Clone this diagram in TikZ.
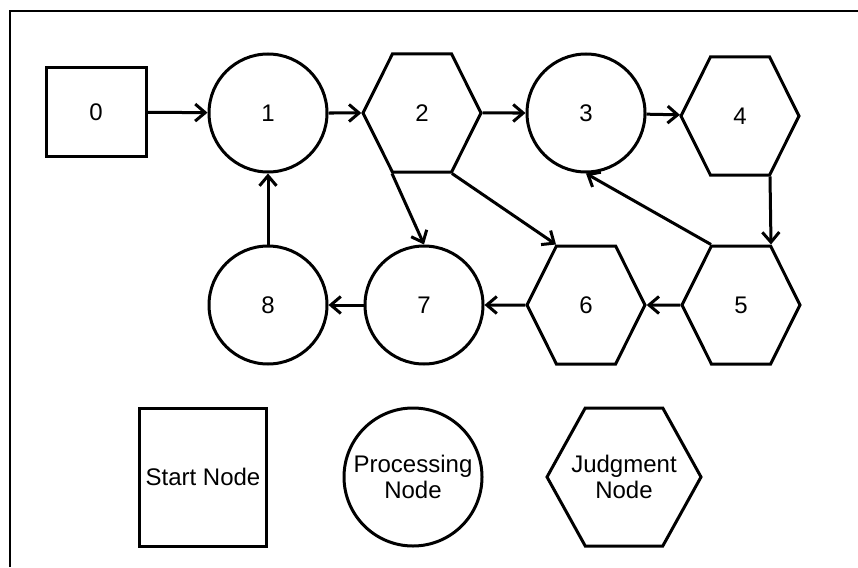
\documentclass[tikz,border=0pt]{standalone}
\usepackage{fontspec}
\setmainfont{Liberation Sans}
\usetikzlibrary{shapes.symbols,arrows.meta}

\begin{document}
\begin{tikzpicture}[x=1pt, y=-1pt, line width=3pt,
        every node/.style={font=\fontsize{24}{26}\selectfont, align=center, inner sep=0pt},
        start/.style={draw, rectangle},
        proc/.style={draw, circle, minimum size=118pt},
        judge/.style={draw, signal, signal to=east and west, signal from=nowhere,
            signal pointer angle=127, minimum width=118pt, minimum height=118pt},
        >={Straight Barb[length=10pt,width=17pt]}]
    \useasboundingbox (0,0) rectangle (858,567);

    % frame
    \draw[line width=2pt] (10,567) -- (10,11) -- (858,11);

    % flow nodes
    \node[start, minimum width=100pt, minimum height=88pt] (n0) at (96,112) {0};
    \node[proc] (n1) at (268,113) {1};
    \node[judge] (n2) at (422,113) {2};
    \node[proc] (n3) at (586,113) {3};
    \node[judge] (n4) at (740,116) {4};
    \node[judge] (n5) at (741,305) {5};
    \node[judge] (n6) at (586,305) {6};
    \node[proc] (n7) at (424,305) {7};
    \node[proc] (n8) at (268,305) {8};

    % straight links
    \foreach \a/\b in {n0/n1, n1/n2, n2/n3, n3/n4, n5/n6, n6/n7, n7/n8, n8/n1}
        \draw[->] (\a) -- (\b);

    % links leaving from hexagon corners
    \draw[->] ([xshift=30pt]n4.south) -- ([xshift=30pt]n5.north);
    \draw[->] ([xshift=-30pt]n5.north) -- (n3.south);
    \draw[->] ([xshift=-30pt]n2.south) -- (n7.north);
    \draw[->] ([xshift=30pt]n2.south) -- ([xshift=-30pt]n6.north);

    % legend
    \node[start, minimum width=127pt, minimum height=138pt] (lstart) at (203,477) {Start Node};
    \node[proc, minimum size=138pt] (lproc) at (413,477) {Processing\\Node};
    \node[judge, inner xsep=-25pt, minimum width=154pt, minimum height=138pt,
        signal pointer angle=122] (ljudge) at (624,477) {Judgment\\Node};
\end{tikzpicture}
\end{document}
